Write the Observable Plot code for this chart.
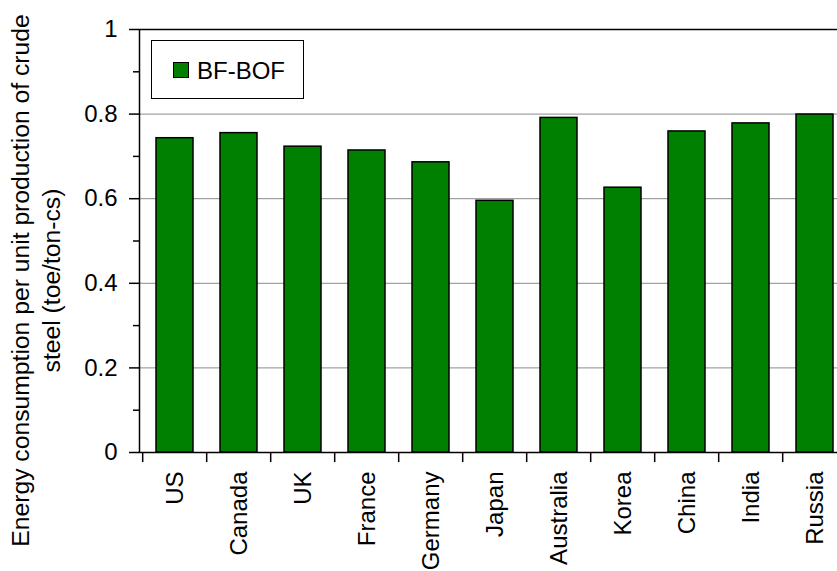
<!DOCTYPE html>
<html>
<head>
<meta charset="utf-8">
<script src="https://cdn.jsdelivr.net/npm/d3@7"></script>
<script src="https://cdn.jsdelivr.net/npm/@observablehq/plot@0.6"></script>
<style>
  html, body { margin: 0; padding: 0; background: white; overflow: hidden; }
  #wrap { position: relative; width: 837px; height: 571px; overflow: hidden; font-family: "Liberation Sans", Arial, sans-serif; }
  #wrap svg { max-width: none !important; width: 850px; height: 571px; display: block; }
  #legend { position: absolute; left: 151px; top: 40px; width: 153px; height: 59px; box-sizing: border-box; border: 1px solid black; background: white; }
  #legend .sw { position: absolute; left: 21px; top: 21px; width: 16px; height: 16px; box-sizing: border-box; border: 1.5px solid black; background: #008000; }
  #legend .lb { position: absolute; left: 45px; top: 18px; font-size: 24px; line-height: 24px; color: black; white-space: nowrap; }
</style>
</head>
<body>
<div id="wrap"></div>
<script>
const countries = ["US", "Canada", "UK", "France", "Germany", "Japan", "Australia", "Korea", "China", "India", "Russia"];
const values = [0.743, 0.755, 0.723, 0.714, 0.686, 0.595, 0.791, 0.626, 0.759, 0.778, 0.799];
const yTicks = [0, 0.2, 0.4, 0.6, 0.8, 1];
const yMinorTicks = [0.1, 0.3, 0.5, 0.7, 0.9];
const gridValues = [0.2, 0.4, 0.6, 0.8];
const seriesName = "BF-BOF";
const yTitle = "Energy consumption per unit production of crude\nsteel (toe/ton-cs)";

const data = countries.map((c, i) => ({country: c, value: values[i]}));

const W = 850, H = 571, ML = 139, MR = 0, MT = 29, MB = 119;
const step = (W - ML - MR) / countries.length;

const chart = Plot.plot({
  width: W,
  height: H,
  marginLeft: ML,
  marginRight: MR,
  marginTop: MT,
  marginBottom: MB,
  style: {fontFamily: "'Liberation Sans', Arial, sans-serif", fontSize: "24px", color: "black", background: "white", maxWidth: "none"},
  x: {domain: countries, paddingInner: 0.42, paddingOuter: 0.21},
  y: {domain: [0, 1]},
  marks: [
    Plot.gridY(gridValues, {stroke: "#8c8c8c", strokeOpacity: 1, strokeWidth: 1}),
    Plot.barY(data, {x: "country", y: "value", fill: "#008000", stroke: "black", strokeWidth: 1.5}),
    Plot.frame({stroke: "black", strokeWidth: 1.5}),
    Plot.axisY(yTicks, {tickSize: 10, tickPadding: 12, tickFormat: d3.format("~g"), fontSize: 24, strokeWidth: 1.5, label: null}),
    Plot.axisY(yMinorTicks, {tickSize: 6, fill: "none", strokeWidth: 1.5, label: null}),
    Plot.axisX({tickSize: 0, tickPadding: 19, tickRotate: -90, fontSize: 24, label: null}),
    Plot.axisX({tickSize: 10, fill: "none", strokeWidth: 1.5, dx: -step / 2, label: null}),
    Plot.text([yTitle], {frameAnchor: "left", rotate: -90, dx: -105, dy: 39.5, fontSize: 24.7, lineHeight: 1.28, lineAnchor: "middle", textAnchor: "middle", fill: "black"})
  ]
});

const wrap = document.getElementById("wrap");
wrap.appendChild(chart);

const legend = document.createElement("div");
legend.id = "legend";
legend.innerHTML = `<div class="sw"></div><div class="lb"></div>`;
legend.querySelector(".lb").textContent = seriesName;
wrap.appendChild(legend);
</script>
</body>
</html>
